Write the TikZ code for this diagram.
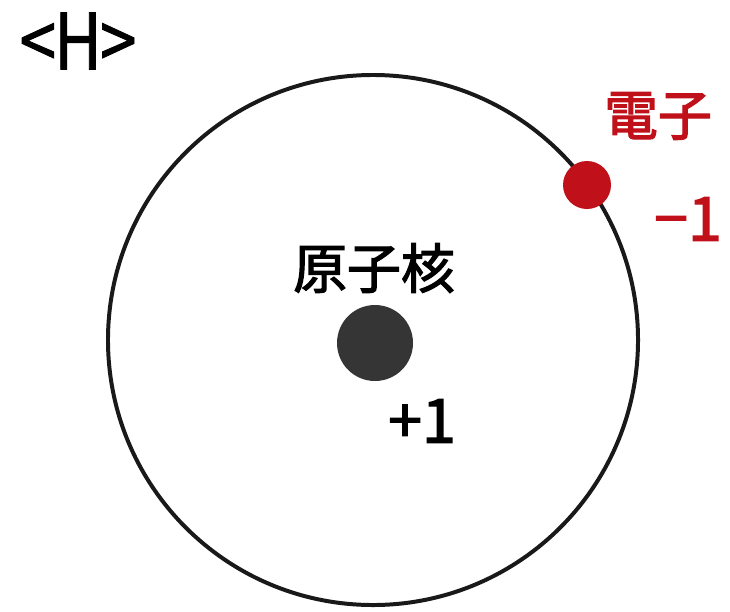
\documentclass[tikz,border=0pt]{standalone}
\usepackage{fontspec}
\setmainfont{Noto Sans CJK JP}[AutoFakeBold=2.2]
\newfontfamily\titlefont{Noto Sans CJK JP}[FakeBold=1.2]
\usetikzlibrary{positioning}

\definecolor{elecred}{HTML}{C0101A}
\definecolor{nucgray}{HTML}{353535}

\begin{document}
\begin{tikzpicture}[
  x=0.03cm, y=-0.03cm,
  orbit/.style={draw=black!90, line width=3.4pt, circle, minimum size=15.9cm, inner sep=0pt},
  nucleus/.style={circle, fill=nucgray, minimum size=2.28cm, inner sep=0pt},
  electron/.style={circle, fill=elecred, minimum size=1.44cm, inner sep=0pt},
  txt/.style={inner sep=0pt, font=\fontsize{46}{50}\selectfont\bfseries},
  numtxt/.style={inner sep=0pt, font=\fontsize{52}{56}\selectfont\bfseries},
]
\useasboundingbox (0,0) rectangle (730,611);

% atom title
\node[inner sep=0pt, xscale=0.85, font=\fontsize{66}{70}\selectfont\titlefont] (title) at (78,41) {<\kern-2ptH\kern-2pt>};

% shell, nucleus and electron
\node[orbit] (shell) at (373,340) {};
\node[nucleus] (nuc) at (375,343) {};
\node[electron] (elec) at (587,185) {};

% labels
\node[txt] (nuclabel) at (374,268) {原子核};
\node[numtxt] (nuccharge) at (422,421) {+1};
\node[txt, text=elecred] (eleclabel) at (658,116) {電子};
\node[numtxt, text=elecred] (eleccharge) at (688,219) {−1};
\end{tikzpicture}
\end{document}
